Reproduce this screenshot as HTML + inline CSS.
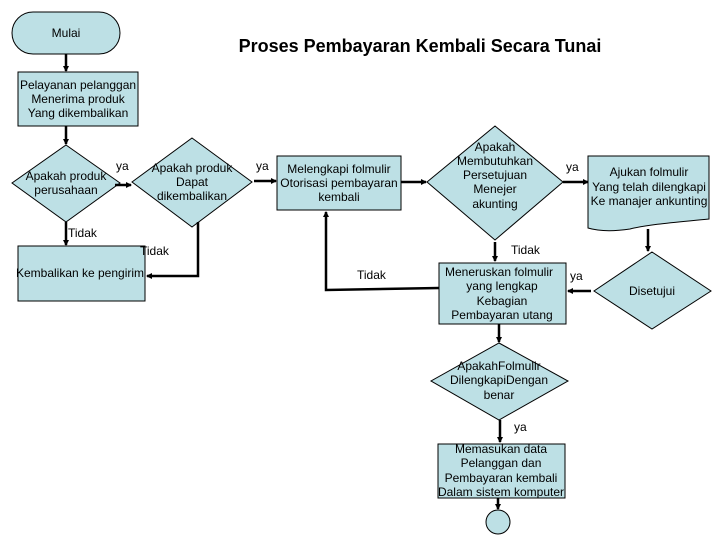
<!DOCTYPE html>
<html><head><meta charset="utf-8"><style>
html,body{margin:0;padding:0;background:#fff}
svg{display:block}
text{font-family:"Liberation Sans",sans-serif;font-size:12px;fill:#000}
.s{fill:#bde0e5;stroke:#000;stroke-width:1}
.l{stroke:#000;stroke-width:2.5;fill:none}
</style></head><body>
<svg width="720" height="540" viewBox="0 0 720 540" xmlns="http://www.w3.org/2000/svg">
<defs><marker id="a" markerWidth="6" markerHeight="6" refX="5" refY="3" orient="auto" markerUnits="userSpaceOnUse"><path d="M0,0 L6,3 L0,6z" fill="#000"/></marker></defs>
<text x="420" y="52" text-anchor="middle" style="font-size:18px;font-weight:bold">Proses Pembayaran Kembali Secara Tunai</text>

<rect class="s" x="12" y="12" width="108" height="42" rx="21"/>
<text x="66" y="37" text-anchor="middle">Mulai</text>
<line class="l" x1="66" y1="54" x2="66" y2="71" marker-end="url(#a)"/>

<rect class="s" x="18" y="72" width="120" height="54"/>
<text x="78" y="89" text-anchor="middle">Pelayanan pelanggan</text>
<text x="78" y="103" text-anchor="middle">Menerima produk</text>
<text x="78" y="117" text-anchor="middle">Yang dikembalikan</text>
<line class="l" x1="66" y1="126" x2="66" y2="144" marker-end="url(#a)"/>

<polygon class="s" points="66,145 120,183 66,222 12,183"/>
<text x="66" y="180" text-anchor="middle">Apakah produk</text>
<text x="66" y="194" text-anchor="middle">perusahaan</text>
<text x="116" y="170">ya</text>
<line class="l" x1="115" y1="185" x2="131" y2="185" marker-end="url(#a)"/>

<polygon class="s" points="192,138 252,182 192,227 132,182"/>
<text x="192" y="172" text-anchor="middle">Apakah produk</text>
<text x="192" y="186" text-anchor="middle">Dapat</text>
<text x="192" y="200" text-anchor="middle">dikembalikan</text>
<text x="256" y="170">ya</text>
<line class="l" x1="254" y1="181" x2="276" y2="181" marker-end="url(#a)"/>

<line class="l" x1="66" y1="222" x2="66" y2="245" marker-end="url(#a)"/>
<text x="68" y="237">Tidak</text>
<rect class="s" x="18" y="246" width="127" height="55"/>
<text x="80" y="277" text-anchor="middle">Kembalikan ke pengirim</text>
<polyline class="l" points="198,222 198,276 147,276" marker-end="url(#a)"/>
<text x="140" y="255">Tidak</text>

<rect class="s" x="277" y="156" width="124" height="54"/>
<text x="339" y="173" text-anchor="middle">Melengkapi folmulir</text>
<text x="339" y="187" text-anchor="middle">Otorisasi pembayaran</text>
<text x="339" y="201" text-anchor="middle">kembali</text>
<line class="l" x1="401" y1="182" x2="426" y2="182" marker-end="url(#a)"/>

<polygon class="s" points="495,126 563,182 495,240 427,182"/>
<text x="495" y="151" text-anchor="middle">Apakah</text>
<text x="495" y="165" text-anchor="middle">Membutuhkan</text>
<text x="495" y="179" text-anchor="middle">Persetujuan</text>
<text x="495" y="193" text-anchor="middle">Menejer</text>
<text x="495" y="208" text-anchor="middle">akunting</text>
<text x="566" y="171">ya</text>
<line class="l" x1="563" y1="182" x2="588" y2="182" marker-end="url(#a)"/>

<path class="s" d="M588,156 H709 V219 C680,222 650,224 630,229 C610,232 598,231 588,228 Z"/>
<text x="649" y="176" text-anchor="middle">Ajukan folmulir</text>
<text x="649" y="191" text-anchor="middle">Yang telah dilengkapi</text>
<text x="649" y="205" text-anchor="middle">Ke manajer ankunting</text>
<line class="l" x1="648" y1="229" x2="648" y2="251" marker-end="url(#a)"/>

<polygon class="s" points="652,252 711,291 652,329 594,291"/>
<text x="652" y="295" text-anchor="middle">Disetujui</text>
<text x="570" y="280">ya</text>
<line class="l" x1="591" y1="291" x2="568" y2="291" marker-end="url(#a)"/>

<line class="l" x1="495" y1="242" x2="495" y2="261" marker-end="url(#a)"/>
<text x="511" y="254">Tidak</text>

<rect class="s" x="439" y="263" width="127" height="61"/>
<text x="499" y="276" text-anchor="middle">Meneruskan folmulir</text>
<text x="502" y="290" text-anchor="middle">yang lengkap</text>
<text x="502" y="305" text-anchor="middle">Kebagian</text>
<text x="502" y="319" text-anchor="middle">Pembayaran utang</text>
<polyline class="l" points="439,288 326,290 326,212" marker-end="url(#a)"/>
<text x="357" y="279">Tidak</text>

<line class="l" x1="499" y1="324" x2="499" y2="342" marker-end="url(#a)"/>
<polygon class="s" points="499,343 568,381 499,420 431,381"/>
<text x="499" y="370" text-anchor="middle">ApakahFolmulir</text>
<text x="499" y="384" text-anchor="middle">DilengkapiDengan</text>
<text x="499" y="399" text-anchor="middle">benar</text>
<line class="l" x1="500" y1="420" x2="500" y2="442" marker-end="url(#a)"/>
<text x="514" y="431">ya</text>

<rect class="s" x="438" y="444" width="127" height="54"/>
<text x="501" y="453" text-anchor="middle">Memasukan data</text>
<text x="501" y="467" text-anchor="middle">Pelanggan dan</text>
<text x="501" y="482" text-anchor="middle">Pembayaran kembali</text>
<text x="501" y="496" text-anchor="middle">Dalam sistem komputer</text>
<line class="l" x1="498" y1="498" x2="498" y2="509" marker-end="url(#a)"/>
<circle class="s" cx="498" cy="522" r="12"/>
</svg>
</body></html>
